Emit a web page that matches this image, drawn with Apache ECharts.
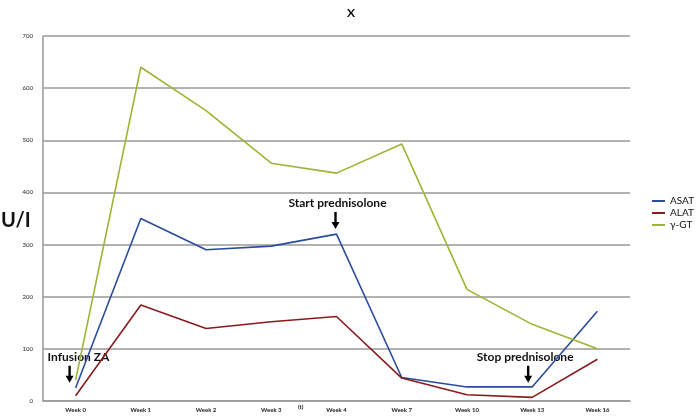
<!DOCTYPE html>
<html><head><meta charset="utf-8">
<script src="https://cdn.jsdelivr.net/npm/echarts@6/dist/echarts.min.js"></script>
<style>html,body{margin:0;padding:0;background:#fff}#c{width:696px;height:416px}</style>
</head><body><div id="c"></div>
<script>
const categories = ['Week 0','Week 1','Week 2','Week 3','Week 4','Week 7','Week 10','Week 13','Week 16'];
const asat = [25, 350, 290, 297, 320, 45, 27, 27, 172];
const alat = [10, 184, 139, 152, 162, 44, 12, 7, 80];
const ggt  = [40, 640, 557, 456, 437, 493, 214, 147, 100];
const yTicks = {min: 0, max: 700, interval: 100};
const annotations = [
  {text: 'Infusion ZA', cat: 'Week 0', tipValue: 35, dx: -6, align: 'left', textDx: -22},
  {text: 'Start prednisolone', cat: 'Week 4', tipValue: 330, dx: -1, align: 'center', textDx: 2},
  {text: 'Stop prednisolone', cat: 'Week 13', tipValue: 35, dx: -4, align: 'center', textDx: -3}
];
const font = 'Lato, "Open Sans", sans-serif';
const chart = echarts.init(document.getElementById('c'));
const mk = (name, data, color) => ({
  name, type: 'line', data, symbol: 'none', smooth: false,
  lineStyle: {color, width: 1.6}, itemStyle: {color}
});
chart.setOption({
  animation: false,
  backgroundColor: '#fff',
  title: {text: 'X', left: 342, top: 2, textStyle: {fontSize: 12, fontWeight: 'bold', color: '#111', fontFamily: font}},
  legend: {
    orient: 'vertical', left: 647, top: 191, itemGap: 2, itemWidth: 13, itemHeight: 8,
    icon: 'path://M0,3 L13,3 L13,5 L0,5 Z',
    textStyle: {fontSize: 10, color: '#111', fontFamily: font},
    data: ['ASAT', 'ALAT', 'γ-GT']
  },
  grid: {left: 43, right: 66, top: 36, bottom: 15},
  xAxis: {
    type: 'category', data: categories, boundaryGap: true,
    axisLine: {lineStyle: {color: '#999', width: 1.5}},
    axisTick: {show: false},
    axisLabel: {fontSize: 6, fontWeight: 'bold', color: '#222', margin: 6, fontFamily: font}
  },
  yAxis: {
    type: 'value', min: yTicks.min, max: yTicks.max, interval: yTicks.interval,
    axisLine: {show: true, lineStyle: {color: '#999', width: 1.5}},
    axisTick: {show: false},
    splitLine: {lineStyle: {color: '#999', width: 1.5}},
    axisLabel: {fontSize: 6, color: '#222', margin: 10, fontFamily: font}
  },
  series: [mk('ASAT', asat, '#2a4c9c'), mk('ALAT', alat, '#8a1b1d'), mk('γ-GT', ggt, '#9bb536')]
});
const g = [];
g.push({type: 'text', left: 1, top: 211, style: {text: 'U/I', font: 'bold 20px ' + font, fill: '#111'}});
const tPos = chart.convertToPixel({gridIndex: 0}, ['Week 3', 0]);
const t4 = chart.convertToPixel({gridIndex: 0}, ['Week 4', 0]);
g.push({type: 'text', x: (tPos[0] + t4[0]) / 2 - 6, y: tPos[1] + 3, style: {text: '(t)', font: 'bold 6px ' + font, fill: '#222'}});
annotations.forEach(a => {
  const p = chart.convertToPixel({gridIndex: 0}, [a.cat, a.tipValue]);
  const x = p[0] + a.dx, y = p[1];
  g.push({type: 'rect', shape: {x: x - 1.2, y: y - 17, width: 2.4, height: 11}, style: {fill: '#000'}});
  g.push({type: 'polygon', shape: {points: [[x - 4, y - 7], [x + 4, y - 7], [x, y]]}, style: {fill: '#000'}});
  g.push({type: 'text', x: x + a.textDx, y: y - 20, style: {text: a.text, font: 'bold 12px ' + font, fill: '#111', align: a.align, verticalAlign: 'bottom'}});
});
chart.setOption({graphic: g});
</script></body></html>
